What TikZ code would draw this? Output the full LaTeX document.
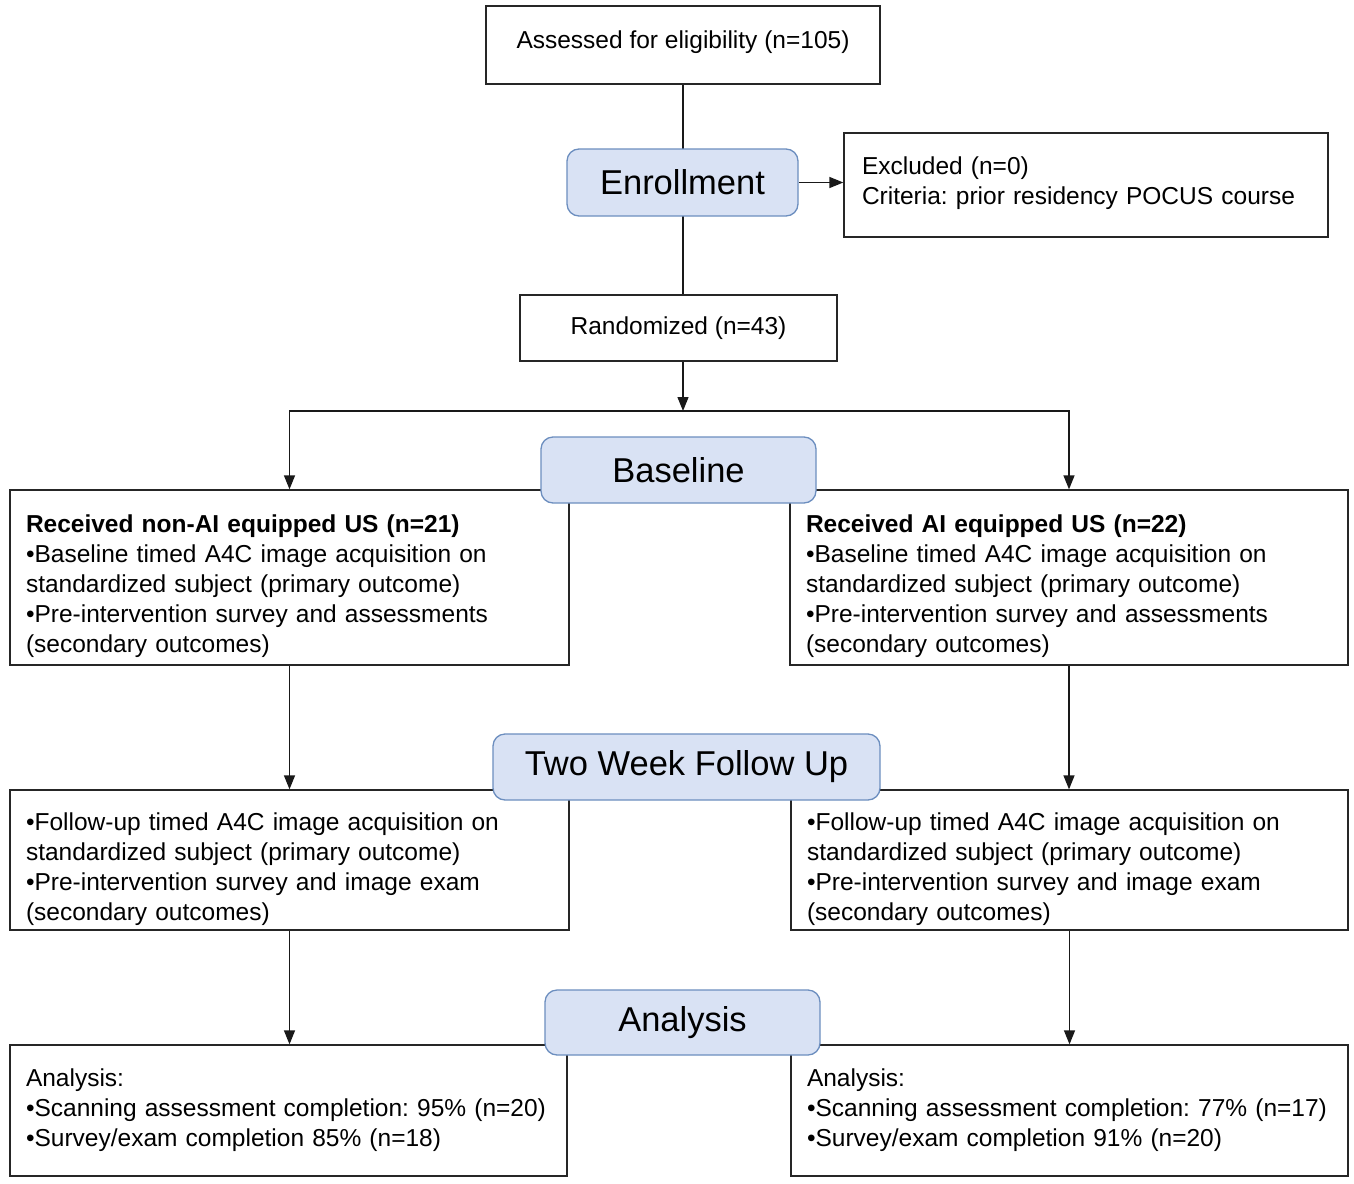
\documentclass[tikz,border=0pt]{standalone}
\usepackage{fontspec}
\setmainfont{Liberation Sans}
\frenchspacing
\usetikzlibrary{arrows.meta}
\pgfdeclarelayer{paper}
\pgfdeclarelayer{bg}
\pgfsetlayers{paper,bg,main}
\definecolor{phasefill}{RGB}{217,226,244}
\definecolor{phaseborder}{RGB}{108,142,191}
\newcommand{\topgap}{\rule{0pt}{36pt}}
\begin{document}
\begin{tikzpicture}[x=1pt,y=-1pt,
  box/.style={draw=black!85, line width=1.3pt, fill=white, inner xsep=16pt, inner ysep=0pt,
    align=left, font=\fontsize{24.5}{30}\selectfont},
  cbox/.style={draw=black!85, line width=1.3pt, fill=white, inner sep=0pt,
    align=center, font=\fontsize{24.5}{30}\selectfont},
  phase/.style={draw=phaseborder, fill=phasefill, line width=1.3pt, rounded corners=12pt,
    inner sep=0pt, font=\fontsize{34.5}{40}\selectfont},
  conn/.style={line width=1.3pt, draw=black!90},
  arr/.style={conn, -{Triangle[length=14pt,width=11pt]}}
]
\useasboundingbox (0,0) rectangle (1354,1183);
\begin{pgfonlayer}{paper}
\fill[white] (0,0) rectangle (1354,1183);
\end{pgfonlayer}

% content boxes
\node[cbox, minimum width=394, minimum height=78] (top) at (683,45) {Assessed for eligibility (n=105)\rule[-11pt]{0pt}{1pt}};
\node[box, inner xsep=18pt, text width=448, minimum height=104] (exc) at (1086,185)
  {Excluded (n=0)\\Criteria: prior residency POCUS course\rule[-9pt]{0pt}{1pt}};
\node[cbox, minimum width=317, minimum height=66] (rand) at (678.5,328) {Randomized (n=43)};

\node[box, text width=527, minimum height=175] (L1) at (289.5,577.5)
  {\topgap\textbf{Received non-AI equipped US (n=21)}\\
   •Baseline timed A4C image acquisition on\\
   standardized subject (primary outcome)\\
   •Pre-intervention survey and assessments\\
   (secondary outcomes)};
\node[box, text width=526, minimum height=175] (R1) at (1069,577.5)
  {\topgap\textbf{Received AI equipped US (n=22)}\\
   •Baseline timed A4C image acquisition on\\
   standardized subject (primary outcome)\\
   •Pre-intervention survey and assessments\\
   (secondary outcomes)};

\node[box, text width=527, minimum height=140] (L2) at (289.5,860)
  {\topgap•Follow-up timed A4C image acquisition on\\
   standardized subject (primary outcome)\\
   •Pre-intervention survey and image exam\\
   (secondary outcomes)};
\node[box, text width=525, minimum height=140] (R2) at (1069.5,860)
  {\topgap•Follow-up timed A4C image acquisition on\\
   standardized subject (primary outcome)\\
   •Pre-intervention survey and image exam\\
   (secondary outcomes)};

\node[box, text width=525, minimum height=131] (L3) at (288.5,1110.5)
  {Analysis:\\
   •Scanning assessment completion: 95\% (n=20)\\
   •Survey/exam completion 85\% (n=18)};
\node[box, text width=525, minimum height=131] (R3) at (1069.5,1110.5)
  {Analysis:\\
   •Scanning assessment completion: 77\% (n=17)\\
   •Survey/exam completion 91\% (n=20)};

% phase labels
\node[phase, minimum width=231, minimum height=67] (enr) at (682.5,182.5) {Enrollment};
\node[phase, minimum width=275, minimum height=66] (base) at (678.5,470) {Baseline};
\node[phase, minimum width=387, minimum height=66] (fu) at (686.5,767) {Two Week Follow Up};
\node[phase, minimum width=275, minimum height=65] (ana) at (682.5,1022.5) {Analysis};

\coordinate (split) at (683,411);

\begin{pgfonlayer}{bg}
\draw[conn] (top.south) -- (top.south |- rand.north);
\draw[arr] (enr.east) -- (exc.west |- enr.east);
\draw[arr] (split |- rand.south) -- (split);
\draw[arr] (split) -| (L1.north);
\draw[arr] (split) -| (R1.north);
\draw[arr] (L1.south) -- (L2.north);
\draw[arr] (R1.south) -- (R1.south |- R2.north);
\draw[arr] (L2.south) -- (L2.south |- L3.north);
\draw[arr] (R2.south) -- (R3.north);
\end{pgfonlayer}
\end{tikzpicture}
\end{document}
